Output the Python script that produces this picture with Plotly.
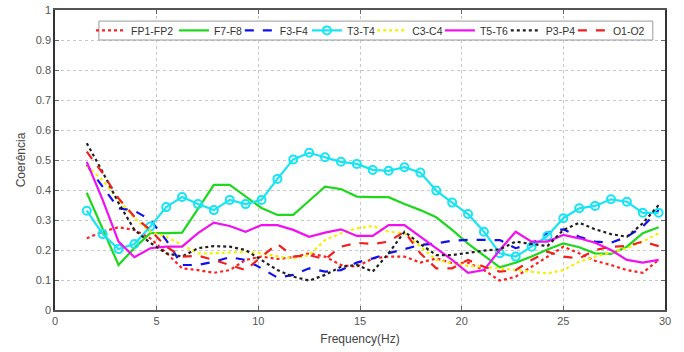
import plotly.graph_objects as go

freq = [k * 0.78125 for k in range(2, 39)]

fp1_fp2 = [0.239, 0.261, 0.276, 0.267, 0.239, 0.191, 0.139, 0.133, 0.124, 0.133, 0.167, 0.178, 0.170,
           0.176, 0.189, 0.178, 0.150, 0.144, 0.172, 0.178, 0.178, 0.158, 0.172, 0.156, 0.158,
           0.133, 0.098, 0.111, 0.144, 0.178, 0.211, 0.189, 0.164, 0.150, 0.133, 0.124, 0.167]
f7_f8 = [0.391, 0.27, 0.150, 0.207, 0.256, 0.256, 0.258, 0.337, 0.417, 0.417, 0.378, 0.340, 0.317,
         0.317, 0.364, 0.411, 0.403, 0.378, 0.376, 0.376, 0.353, 0.333, 0.309, 0.267, 0.221,
         0.183, 0.142, 0.158, 0.178, 0.202, 0.222, 0.209, 0.189, 0.187, 0.211, 0.256, 0.276]
f3_f4 = [0.483, 0.411, 0.339, 0.331, 0.300, 0.233, 0.150, 0.150, 0.161, 0.176, 0.167, 0.139, 0.108,
         0.117, 0.139, 0.128, 0.133, 0.158, 0.172, 0.189, 0.202, 0.217, 0.222, 0.231, 0.234,
         0.233, 0.233, 0.206, 0.220, 0.258, 0.269, 0.244, 0.228, 0.224, 0.244, 0.278, 0.333]
t3_t4 = [0.331, 0.253, 0.203, 0.220, 0.278, 0.343, 0.377, 0.353, 0.333, 0.367, 0.353, 0.367, 0.437,
         0.502, 0.524, 0.509, 0.494, 0.487, 0.467, 0.464, 0.476, 0.458, 0.398, 0.358, 0.320,
         0.261, 0.189, 0.178, 0.211, 0.247, 0.306, 0.339, 0.347, 0.369, 0.361, 0.324, 0.324]
c3_c4 = [0.480, 0.433, 0.367, 0.306, 0.261, 0.244, 0.217, 0.189, 0.189, 0.191, 0.194, 0.189, 0.179,
         0.172, 0.183, 0.233, 0.256, 0.272, 0.280, 0.261, 0.256, 0.211, 0.167, 0.156, 0.147,
         0.144, 0.139, 0.133, 0.128, 0.122, 0.133, 0.161, 0.178, 0.191, 0.206, 0.228, 0.256]
t5_t6 = [0.494, 0.367, 0.228, 0.176, 0.206, 0.211, 0.211, 0.256, 0.291, 0.280, 0.261, 0.283, 0.283,
         0.267, 0.244, 0.258, 0.269, 0.247, 0.247, 0.283, 0.283, 0.244, 0.206, 0.167, 0.124,
         0.133, 0.200, 0.261, 0.228, 0.228, 0.250, 0.239, 0.224, 0.200, 0.167, 0.158, 0.167]
p3_p4 = [0.556, 0.460, 0.357, 0.267, 0.224, 0.189, 0.178, 0.206, 0.213, 0.211, 0.200, 0.167, 0.133,
         0.111, 0.098, 0.117, 0.144, 0.150, 0.128, 0.189, 0.261, 0.220, 0.183, 0.183, 0.191,
         0.198, 0.202, 0.228, 0.220, 0.213, 0.267, 0.291, 0.269, 0.253, 0.244, 0.289, 0.350]
o1_o2 = [0.528, 0.456, 0.372, 0.311, 0.267, 0.211, 0.178, 0.181, 0.167, 0.150, 0.133, 0.178, 0.220,
         0.178, 0.183, 0.169, 0.211, 0.224, 0.220, 0.228, 0.261, 0.189, 0.139, 0.139, 0.167,
         0.144, 0.128, 0.133, 0.167, 0.194, 0.178, 0.172, 0.200, 0.211, 0.213, 0.228, 0.213]

x_ticks = [0, 5, 10, 15, 20, 25, 30]
y_ticks = [0, 0.1, 0.2, 0.3, 0.4, 0.5, 0.6, 0.7, 0.8, 0.9, 1]

series = [
    ("FP1-FP2", fp1_fp2, "#ff2020", "dot", False),
    ("F7-F8", f7_f8, "#1ed81e", "solid", False),
    ("F3-F4", f3_f4, "#1010ee", "dash", False),
    ("T3-T4", t3_t4, "#18e4f4", "solid", True),
    ("C3-C4", c3_c4, "#f4f000", "dot", False),
    ("T5-T6", t5_t6, "#f010f0", "solid", False),
    ("P3-P4", p3_p4, "#202020", "dot", False),
    ("O1-O2", o1_o2, "#f02020", "dash", False),
]

# legend entry positions (paper x of each entry)
legend_x = [0.059, 0.195, 0.303, 0.413, 0.520, 0.631, 0.739, 0.849]

fig = go.Figure()
legend_layout = {}
for i, (name, vals, color, dash, mark) in enumerate(series):
    lg = "legend" if i == 0 else "legend%d" % (i + 1)
    fig.add_trace(go.Scatter(
        x=freq, y=vals, name=name, legend=lg,
        mode="lines+markers" if mark else "lines",
        line=dict(color=color, dash=dash, width=2.2),
        marker=dict(symbol="circle-open", size=8, color=color, line=dict(width=2)) if mark else None,
    ))
    legend_layout[lg] = dict(
        x=legend_x[i], xanchor="left", y=0.932, yanchor="middle",
        bgcolor="rgba(0,0,0,0)", borderwidth=0,
        font=dict(family="Liberation Sans, Arial", size=10.5, color="#333"),
        itemwidth=30,
    )

axis_common = dict(
    showgrid=True, gridcolor="#c8c8c8", griddash="dot", gridwidth=1,
    showline=True, linewidth=1.5, mirror="ticks",
    ticks="inside", ticklen=4, tickcolor="#666",
    tickfont=dict(family="Liberation Sans, Arial", size=11, color="#555"),
    zeroline=False, automargin=False,
)

fig.update_xaxes(range=[0, 30], tickvals=x_ticks, linecolor="#555",
                 title=dict(text="Frequency(Hz)", font=dict(family="Liberation Sans, Arial", size=12, color="#444"), standoff=9),
                 **axis_common)
fig.update_yaxes(range=[0, 1], tickvals=y_ticks, linecolor="#333",
                 ticktext=[("%g" % v) for v in y_ticks],
                 title=dict(text="Coerência", font=dict(family="Liberation Sans, Arial", size=12, color="#444"), standoff=8),
                 **axis_common)

fig.add_shape(type="rect", xref="paper", yref="paper", x0=0.072, x1=0.980, y0=0.900, y1=0.963,
              line=dict(color="#9a9a9a", width=1), fillcolor="white", layer="above")

fig.update_layout(
    width=684, height=352,
    margin=dict(l=55, r=19, t=10, b=42),
    paper_bgcolor="white", plot_bgcolor="white",
    showlegend=True,
    **legend_layout,
)

fig.write_html("out.html")
